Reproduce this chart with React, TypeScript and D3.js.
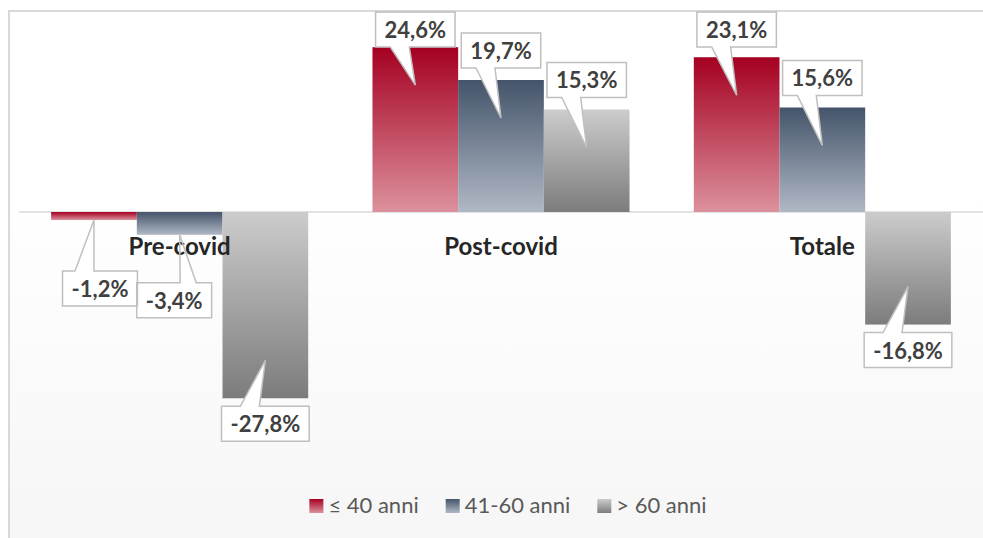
import React, { useEffect, useRef } from 'react';
import * as d3 from 'd3';

// chart data
const categories = ['Pre-covid', 'Post-covid', 'Totale'];
const seriesNames = ['≤ 40 anni', '41-60 anni', '> 60 anni'];
const under40 = [-1.2, 24.6, 23.1];
const from41to60 = [-3.4, 19.7, 15.6];
const over60 = [-27.8, 15.3, -16.8];
const seriesValues = [under40, from41to60, over60];

// gradient stops per series (top, bottom)
const seriesColors = [
  ['#a50021', '#dc919d'],
  ['#44546a', '#b0b8c5'],
  ['#cccccc', '#7c7c7c'],
];

// manual nudges of some labels (category index - series index)
const labelNudges: Record<string, [number, number]> = {
  '0-0': [6, 43],
  '0-1': [-5.5, 40],
};

const W = 983;
const H = 538;

const fmt = (v: number) => v.toFixed(1).replace('.', ',') + '%';

const App = () => {
  const svgRef = useRef<SVGSVGElement | null>(null);

  useEffect(() => {
    const svg = d3.select(svgRef.current);
    svg.selectAll('*').remove();

    const font = 'Lato, "Open Sans", sans-serif';
    const defs = svg.append('defs');

    // background gradient
    const bg = defs.append('linearGradient')
      .attr('id', 'bg').attr('x1', 0).attr('y1', 0).attr('x2', 0).attr('y2', 1);
    bg.append('stop').attr('offset', 0).attr('stop-color', '#ffffff');
    bg.append('stop').attr('offset', 0.35).attr('stop-color', '#ffffff');
    bg.append('stop').attr('offset', 1).attr('stop-color', '#f6f6f6');

    seriesColors.forEach((c, i) => {
      const g = defs.append('linearGradient')
        .attr('id', `grad${i}`).attr('x1', 0).attr('y1', 0).attr('x2', 0).attr('y2', 1);
      g.append('stop').attr('offset', 0).attr('stop-color', c[0]);
      g.append('stop').attr('offset', 1).attr('stop-color', c[1]);
    });

    svg.append('rect')
      .attr('x', 9).attr('y', 11).attr('width', W - 9).attr('height', H - 11)
      .attr('fill', 'url(#bg)');

    // chart border (top + left visible)
    svg.append('path')
      .attr('d', `M9,${H} V11 H${W}`)
      .attr('fill', 'none')
      .attr('stroke', '#d9d9d9')
      .attr('stroke-width', 2);

    // scales
    const x0 = d3.scaleBand()
      .domain(categories)
      .range([19, 983])
      .paddingInner(0.2)
      .paddingOuter(0.1);

    const x1 = d3.scaleBand()
      .domain(seriesNames)
      .range([0, x0.bandwidth()])
      .padding(0);

    const y = d3.scaleLinear()
      .domain([-40, 30])
      .range([480, 11]);

    // zero line
    svg.append('line')
      .attr('x1', 19).attr('x2', W)
      .attr('y1', y(0)).attr('y2', y(0))
      .attr('stroke', '#d9d9d9')
      .attr('stroke-width', 1.5);

    const points: { ci: number; si: number; v: number }[] = [];
    categories.forEach((c, ci) => {
      seriesNames.forEach((s, si) => {
        points.push({ ci, si, v: seriesValues[si][ci] });
      });
    });

    // bars
    svg.append('g')
      .selectAll('rect')
      .data(points)
      .enter()
      .append('rect')
      .attr('x', d => x0(categories[d.ci])! + x1(seriesNames[d.si])!)
      .attr('y', d => Math.min(y(d.v), y(0)))
      .attr('width', x1.bandwidth())
      .attr('height', d => Math.abs(y(d.v) - y(0)))
      .attr('fill', d => `url(#grad${d.si})`);

    // callout labels: fills first, category labels, then outlines + text
    const fills = svg.append('g');
    const catG = svg.append('g');
    const outlines = svg.append('g');

    points.forEach(d => {
      const cx = x0(categories[d.ci])! + x1(seriesNames[d.si])! + x1.bandwidth() / 2;
      const end = y(d.v);
      const len = Math.abs(end - y(0));
      const pos = d.v >= 0;
      const nudge = labelNudges[`${d.ci}-${d.si}`] || [0, 0];

      const fill = fills.append('path');
      const outline = outlines.append('path');
      const txt = outlines.append('text')
        .attr('text-anchor', 'middle')
        .style('font-family', font)
        .style('font-weight', 700)
        .style('font-size', '22px')
        .attr('fill', '#404040')
        .text(fmt(d.v));
      const tw = (txt.node() as SVGTextElement).getComputedTextLength();
      const bw = tw + 18;
      const bh = 35;
      const bcx = cx + nudge[0];
      let top = pos ? end - 12 - bh : end + 8;
      top += nudge[1];
      if (top < 12) top = 12;
      const bx0 = bcx - bw / 2;
      const bx1 = bcx + bw / 2;
      const by1 = top + bh;

      const tipOff = len > 60 ? 38 : 0;
      const tipX = cx;
      const tipY = pos ? end + tipOff : end - tipOff;
      let w0 = bcx - 25;
      let w1 = bcx - 6;
      if (tipX > bcx + 3) { w0 = bcx + 6; w1 = bcx + 22; }

      const dPath = pos
        ? `M${bx0},${top} H${bx1} V${by1} H${w1} L${tipX},${tipY} L${w0},${by1} H${bx0} Z`
        : `M${bx0},${top} H${w0} L${tipX},${tipY} L${w1},${top} H${bx1} V${by1} H${bx0} Z`;

      fill.attr('d', dPath).attr('fill', '#ffffff');
      outline.attr('d', dPath)
        .attr('fill', 'none')
        .attr('stroke', '#bfbfbf')
        .attr('stroke-width', 1.5);

      txt.attr('x', bcx).attr('y', top + 26);
    });

    // category labels
    catG.selectAll('text')
      .data(categories)
      .enter()
      .append('text')
      .attr('x', d => x0(d)! + x0.bandwidth() / 2)
      .attr('y', y(0) + 43)
      .attr('text-anchor', 'middle')
      .style('font-family', font)
      .style('font-weight', 700)
      .style('font-size', '24px')
      .attr('fill', '#262626')
      .text(d => d);

    // legend
    const legend = svg.append('g');
    const items = seriesNames.map((name, i) => {
      const it = legend.append('g');
      it.append('rect')
        .attr('x', 0).attr('y', -7)
        .attr('width', 14).attr('height', 14)
        .attr('fill', `url(#grad${i})`);
      const t = it.append('text')
        .attr('x', 19).attr('y', 7)
        .style('font-family', font)
        .style('font-size', '22px')
        .attr('fill', '#595959')
        .text(name);
      const w = 19 + (t.node() as SVGTextElement).getComputedTextLength();
      return { it, w };
    });
    const gap = 27;
    const total = d3.sum(items, d => d.w) + gap * (items.length - 1);
    let lx = 508 - total / 2;
    items.forEach(d => {
      d.it.attr('transform', `translate(${lx},506)`);
      lx += d.w + gap;
    });
  }, []);

  return (
    <svg
      ref={svgRef}
      width={W}
      height={H}
      style={{ position: 'absolute', left: 0, top: 0, background: '#ffffff' }}
    />
  );
};

export default App;
